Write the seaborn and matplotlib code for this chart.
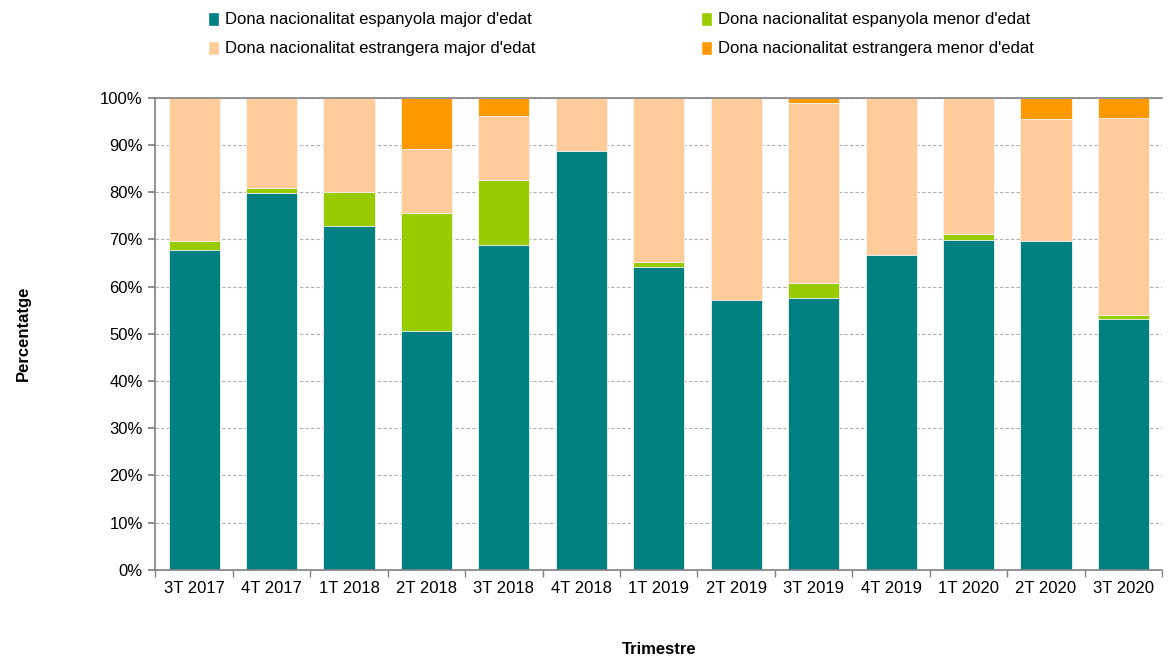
import numpy as np
import pandas as pd
import seaborn as sns
import matplotlib.pyplot as plt
from matplotlib.patches import Patch

# Trimestres and percentage shares
trimestres = ['3T 2017', '4T 2017', '1T 2018', '2T 2018', '3T 2018', '4T 2018', '1T 2019',
              '2T 2019', '3T 2019', '4T 2019', '1T 2020', '2T 2020', '3T 2020']
esp_major = [67.7, 79.9, 72.9, 50.5, 68.8, 88.7, 64.2, 57.1, 57.5, 66.6, 69.9, 69.6, 53.1]
esp_menor = [2.0, 1.0, 7.2, 25.2, 13.7, 0.0, 1.1, 0.0, 3.2, 0.0, 1.2, 0.0, 0.9]
est_major = [30.3, 19.1, 19.9, 13.5, 13.7, 11.3, 34.7, 42.9, 38.1, 33.4, 28.9, 25.9, 41.7]
est_menor = [0.0, 0.0, 0.0, 10.8, 3.8, 0.0, 0.0, 0.0, 1.2, 0.0, 0.0, 4.5, 4.3]

series = ["Dona nacionalitat espanyola major d'edat", "Dona nacionalitat espanyola menor d'edat",
          "Dona nacionalitat estrangera major d'edat", "Dona nacionalitat estrangera menor d'edat"]
colors = ['#008080', '#99CC00', '#FFCC99', '#FF9900']

sns.set_theme(style='white')
plt.rcParams['font.family'] = ['Liberation Sans', 'DejaVu Sans']
plt.rcParams['text.color'] = 'black'
plt.rcParams['axes.labelcolor'] = 'black'
plt.rcParams['xtick.color'] = 'black'
plt.rcParams['ytick.color'] = 'black'

df = pd.DataFrame({'trimestre': trimestres, 's0': esp_major, 's1': esp_menor,
                   's2': est_major, 's3': est_menor})
cum = df[['s0', 's1', 's2', 's3']].cumsum(axis=1)

fig = plt.figure(figsize=(11.68, 6.61), dpi=100)
ax = fig.add_axes([0.133, 0.138, 0.862, 0.714])

# stacked bars: draw cumulative totals from the top layer down
for i in [3, 2, 1, 0]:
    sns.barplot(x=df['trimestre'], y=cum['s%d' % i], color=colors[i], width=0.66,
                edgecolor='#f4f4f4', linewidth=0.6, saturation=1, ax=ax, zorder=2)

ax.set_ylim(0, 100)
ax.set_xlim(-0.5, len(trimestres) - 0.5)
ax.set_yticks(np.arange(0, 101, 10))
ax.set_yticklabels(['%d%%' % v for v in range(0, 101, 10)], fontsize=12)
ax.set_xticks(range(len(trimestres)))
ax.set_xticklabels(trimestres, fontsize=12)
ax.set_xticks(np.arange(-0.5, len(trimestres), 1), minor=True)
ax.tick_params(axis='x', which='major', length=0, pad=8)
ax.tick_params(axis='x', which='minor', length=5, color='#808080', direction='out', bottom=True)
ax.tick_params(axis='y', length=5, color='#808080', direction='out', left=True, pad=4)
ax.yaxis.grid(True, linestyle=(0, (3, 2)), color='#b0b0b0', linewidth=0.8, zorder=0)
ax.set_axisbelow(True)

for s in ['left', 'bottom', 'top']:
    ax.spines[s].set_color('#808080')
    ax.spines[s].set_linewidth(1.2)
ax.spines['right'].set_visible(False)

ax.set_xlabel('Trimestre', fontsize=12, fontweight='bold', labelpad=33)
ax.set_ylabel('Percentatge', fontsize=12, fontweight='bold', labelpad=50)

handles = [Patch(facecolor=colors[i], label=series[i]) for i in [0, 2, 1, 3]]
fig.legend(handles=handles, ncol=2, loc='upper left', bbox_to_anchor=(0.165, 1.005),
           frameon=False, fontsize=12, handlelength=0.65, handleheight=0.9,
           handletextpad=0.4, columnspacing=9.9, labelspacing=0.8)

plt.savefig('out.png', dpi=100)
